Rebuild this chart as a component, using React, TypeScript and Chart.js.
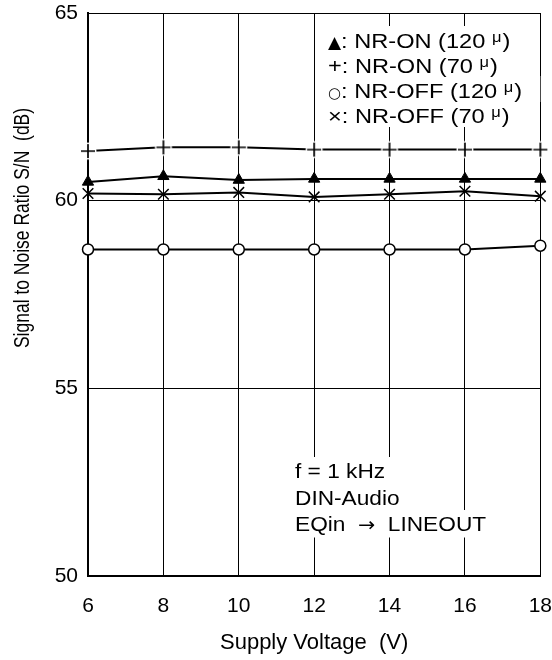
import React, { useEffect, useRef } from "react";
import { Chart, registerables } from "chart.js";

Chart.register(...registerables);

// ---------- data ----------
const voltages = [6, 8, 10, 12, 14, 16, 18];
const nrOn120 = [60.5, 60.65, 60.55, 60.58, 60.58, 60.58, 60.58];
const nrOn70 = [61.32, 61.42, 61.42, 61.36, 61.36, 61.36, 61.36];
const nrOff120 = [58.7, 58.7, 58.7, 58.7, 58.7, 58.7, 58.8];
const nrOff70 = [60.19, 60.17, 60.22, 60.1, 60.17, 60.25, 60.12];

const xMin = 6;
const xMax = 18;
const xStep = 2;
const yMin = 50;
const yMax = 65;
const yStep = 5;

const xTitle = "Supply Voltage  (V)";
const yTitle = "Signal to Noise Ratio S/N  (dB)";

const legendSymbols = ["\u25B2", "+", "\u25CB", "\u00D7"];
const legendTexts = [": NR-ON (120", ": NR-ON (70", ": NR-OFF (120", ": NR-OFF (70"];
const legendUnit = "\u03BC";
// each note line is split into pieces; the arrow is drawn with a symbol-capable font
const noteLines = [["f = 1 kHz"], ["DIN-Audio"], ["EQin  ", "\u2192", "  LINEOUT"]];

const FONT = "'Liberation Sans', Arial, Helvetica, sans-serif";
const SYMFONT = "'DejaVu Sans', sans-serif";

function stretchedText(
  ctx: CanvasRenderingContext2D,
  text: string,
  x: number,
  y: number,
  size: number,
  k: number,
  align: CanvasTextAlign = "left",
  family: string = FONT
) {
  ctx.save();
  ctx.translate(x, y);
  ctx.scale(k, 1);
  ctx.font = `${size}px ${family}`;
  ctx.textAlign = align;
  ctx.textBaseline = "alphabetic";
  ctx.fillStyle = "#000";
  ctx.fillText(text, 0, 0);
  const w = ctx.measureText(text).width * k;
  ctx.restore();
  return w;
}

function makePlusMarker(): HTMLCanvasElement {
  const c = document.createElement("canvas");
  c.width = 22;
  c.height = 22;
  const g = c.getContext("2d")!;
  g.fillStyle = "#fff";
  g.beginPath();
  g.arc(11, 11, 8.5, 0, Math.PI * 2);
  g.fill();
  g.strokeStyle = "#000";
  g.lineWidth = 1.7;
  g.beginPath();
  g.moveTo(11, 4);
  g.lineTo(11, 18);
  g.moveTo(4, 11);
  g.lineTo(18, 11);
  g.stroke();
  return c;
}

const overlayPlugin = {
  id: "overlayText",
  afterDraw(chart: any) {
    const ctx: CanvasRenderingContext2D = chart.ctx;
    const area = chart.chartArea;

    // ---- legend (upper right, white backed) ----
    const lx = area.left + 240;
    const lBase = area.top + 35;
    const lGap = 25;
    const lSize = 20;
    const lk = 1.18;
    for (let i = 0; i < legendTexts.length; i++) {
      const by = lBase + i * lGap;
      ctx.save();
      ctx.font = `${lSize}px ${FONT}`;
      const approxW =
        (ctx.measureText(legendTexts[i] + " ").width + lSize * 1.3) * lk + 14;
      ctx.restore();
      ctx.fillStyle = "#fff";
      ctx.fillRect(lx - 5, by - 22, approxW + 10, lGap + 1);
    }
    for (let i = 0; i < legendTexts.length; i++) {
      const by = lBase + i * lGap;
      let x = lx;
      const sym = legendSymbols[i];
      if (sym === "\u25B2") {
        x += stretchedText(ctx, sym, x, by, 17, 1.0, "left", SYMFONT);
      } else if (sym === "\u25CB") {
        x += stretchedText(ctx, sym, x, by, 15, 1.0, "left", SYMFONT);
      } else if (sym === "\u00D7") {
        x += stretchedText(ctx, sym, x, by, 20, lk);
      } else {
        x += stretchedText(ctx, sym, x, by, lSize, lk);
      }
      x += stretchedText(ctx, legendTexts[i] + " ", x, by, lSize, lk);
      x += stretchedText(ctx, legendUnit, x, by - 6, 14, lk);
      stretchedText(ctx, ")", x + 1, by, lSize, lk);
    }

    // ---- condition notes (lower middle, white backed) ----
    const nx = area.left + 207;
    const nBase = area.top + 465;
    const nGap = 26.5;
    const nSize = 21;
    const nk = 1.08;
    const pieceFont = (p: string) => (p === "\u2192" ? SYMFONT : FONT);
    const pieceSize = (p: string) => (p === "\u2192" ? 19 : nSize);
    for (let i = 0; i < noteLines.length; i++) {
      let w = 0;
      for (const p of noteLines[i]) {
        ctx.save();
        ctx.font = `${pieceSize(p)}px ${pieceFont(p)}`;
        w += ctx.measureText(p).width * nk;
        ctx.restore();
      }
      ctx.fillStyle = "#fff";
      ctx.fillRect(nx - 5, nBase + i * nGap - 21, w + 10, nGap + 1);
    }
    for (let i = 0; i < noteLines.length; i++) {
      let x = nx;
      for (const p of noteLines[i]) {
        x += stretchedText(ctx, p, x, nBase + i * nGap, pieceSize(p), nk, "left", pieceFont(p));
      }
    }

    // ---- y-axis title ----
    ctx.save();
    ctx.translate(22.5, area.top + 215);
    ctx.scale(1.25, 1);
    ctx.rotate(-Math.PI / 2);
    ctx.font = `17.5px ${FONT}`;
    ctx.textAlign = "center";
    ctx.textBaseline = "middle";
    ctx.fillStyle = "#000";
    ctx.fillText(yTitle, 0, 0);
    ctx.restore();
  },
};

export default function App() {
  const ref = useRef<HTMLCanvasElement | null>(null);

  useEffect(() => {
    const canvas = ref.current;
    if (!canvas) return;
    const plus = makePlusMarker();
    const common = {
      borderColor: "#000",
      borderWidth: 2,
      pointBorderColor: "#000",
      tension: 0,
      clip: false as any,
    };
    const chart = new Chart(canvas, {
      type: "line",
      data: {
        labels: voltages,
        datasets: [
          {
            ...common,
            label: "NR-ON (120 μ)",
            data: voltages.map((v, i) => ({ x: v, y: nrOn120[i] })),
            pointStyle: "triangle",
            pointRadius: 6.5,
            pointBackgroundColor: "#000",
            pointBorderWidth: 1,
          },
          {
            ...common,
            label: "NR-ON (70 μ)",
            data: voltages.map((v, i) => ({ x: v, y: nrOn70[i] })),
            pointStyle: plus as any,
            pointRadius: 7,
          },
          {
            ...common,
            label: "NR-OFF (120 μ)",
            data: voltages.map((v, i) => ({ x: v, y: nrOff120[i] })),
            pointStyle: "circle",
            pointRadius: 5.5,
            pointBackgroundColor: "#fff",
            pointBorderWidth: 1.5,
          },
          {
            ...common,
            label: "NR-OFF (70 μ)",
            data: voltages.map((v, i) => ({ x: v, y: nrOff70[i] })),
            pointStyle: "crossRot",
            pointRadius: 7.5,
            pointBorderWidth: 1.5,
          },
        ],
      },
      options: {
        responsive: false,
        animation: false,
        devicePixelRatio: 1,
        layout: { padding: { left: 0, right: 11, top: 13, bottom: 0 } },
        plugins: {
          legend: { display: false },
          tooltip: { enabled: false },
          title: { display: false },
        },
        scales: {
          x: {
            type: "linear",
            min: xMin,
            max: xMax,
            ticks: {
              stepSize: xStep,
              color: "#000",
              padding: 0,
              font: { family: FONT, size: 21 },
              maxRotation: 0,
            },
            grid: {
              color: "#000",
              lineWidth: 1,
              drawTicks: true,
              tickLength: 18,
              tickColor: "rgba(0,0,0,0)",
            },
            border: { color: "#000", width: 2 },
            title: {
              display: true,
              text: xTitle,
              color: "#000",
              font: { family: FONT, size: 22 },
              padding: { top: 0, bottom: 4 },
            },
            afterFit: (s: any) => {
              s.height = 84;
            },
          },
          y: {
            type: "linear",
            min: yMin,
            max: yMax,
            ticks: {
              stepSize: yStep,
              color: "#000",
              padding: 0,
              font: { family: FONT, size: 21 },
            },
            grid: {
              color: "#000",
              lineWidth: 1,
              drawTicks: true,
              tickLength: 10,
              tickColor: "rgba(0,0,0,0)",
            },
            border: { color: "#000", width: 2 },
            afterFit: (s: any) => {
              s.width = 88;
            },
          },
        },
      },
      plugins: [overlayPlugin],
    });
    return () => chart.destroy();
  }, []);

  return (
    <div style={{ position: "absolute", left: 0, top: 0, width: 552, height: 660, background: "#fff" }}>
      <canvas ref={ref} width={552} height={660} style={{ display: "block" }} />
    </div>
  );
}
